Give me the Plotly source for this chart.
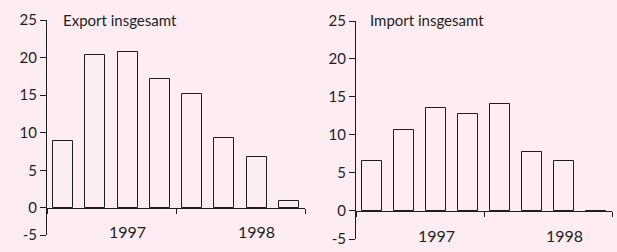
import plotly.graph_objects as go

quarters = ["Q1 1997", "Q2 1997", "Q3 1997", "Q4 1997", "Q1 1998", "Q2 1998", "Q3 1998", "Q4 1998"]
export_values = [8.9, 20.4, 20.7, 17.2, 15.2, 9.3, 6.8, 0.9]
import_values = [6.6, 10.6, 13.5, 12.8, 14.1, 7.7, 6.6, -0.2]
ytick_labels = ["-5", "0", "5", "10", "15", "20", "25"]
year_labels = ["1997", "1998"]
titles = ["Export insgesamt", "Import insgesamt"]

BG = "#fdedf2"
INK = "#1e1e1e"
FONT = "Lato"

W, H = 617, 252
xpos = list(range(len(quarters)))

fig = go.Figure()

panels = [
    dict(vals=export_values, xd=(47, 305), ytop=20, ybot=235, ymin=-3.6, zero=208, title_x=61),
    dict(vals=import_values, xd=(356, 612), ytop=21, ybot=239, ymin=-3.7, zero=211, title_x=368),
]

for i, p in enumerate(panels):
    n = "" if i == 0 else str(i + 1)
    xa, ya = "x" + n, "y" + n
    fig.add_trace(go.Bar(
        x=xpos, y=p["vals"], xaxis=xa, yaxis=ya, width=0.62,
        marker=dict(color=BG, line=dict(color=INK, width=1)),
        showlegend=False, hoverinfo="skip",
    ))
    tickvals = [p["ymin"], 0, 5, 10, 15, 20, 25]
    fig.layout["xaxis" + n] = dict(
        domain=[p["xd"][0] / W, p["xd"][1] / W], range=[-0.5, 7.5],
        anchor="free", position=(H - p["zero"]) / H, automargin=False,
        showline=True, linecolor=INK, linewidth=1,
        tickmode="array", tickvals=[-0.5, 3.5, 7.5], ticks="outside",
        ticklen=5, tickcolor=INK, showticklabels=False,
        showgrid=False, zeroline=False, fixedrange=True,
    )
    fig.layout["yaxis" + n] = dict(
        domain=[(H - p["ybot"]) / H, (H - p["ytop"]) / H], range=[p["ymin"], 25],
        anchor=xa, automargin=False, showline=True, linecolor=INK, linewidth=1,
        tickmode="array", tickvals=tickvals, ticktext=ytick_labels,
        ticks="outside", ticklen=6, tickcolor=INK,
        tickfont=dict(family=FONT, size=15, color=INK),
        showgrid=False, zeroline=False, fixedrange=True,
    )
    for yl, xv in zip(year_labels, [2, 6]):
        fig.add_annotation(x=xv, y=-3.2, xref=xa, yref=ya, text=yl, showarrow=False,
                           xanchor="center", yanchor="middle",
                           font=dict(family=FONT, size=16, color=INK))
    fig.add_annotation(x=p["title_x"] / W, y=(H - 20) / H, xref="paper", yref="paper",
                       text=titles[i], showarrow=False, xanchor="left", yanchor="middle",
                       font=dict(family=FONT, size=15, color=INK))

fig.update_layout(
    width=W, height=H, autosize=False, margin=dict(l=0, r=0, t=0, b=0, pad=0),
    paper_bgcolor=BG, plot_bgcolor=BG, bargap=0,
)

fig.write_html("out.html", config={"displayModeBar": False},
               post_script="document.body.style.margin='0';document.body.style.overflow='hidden';")
